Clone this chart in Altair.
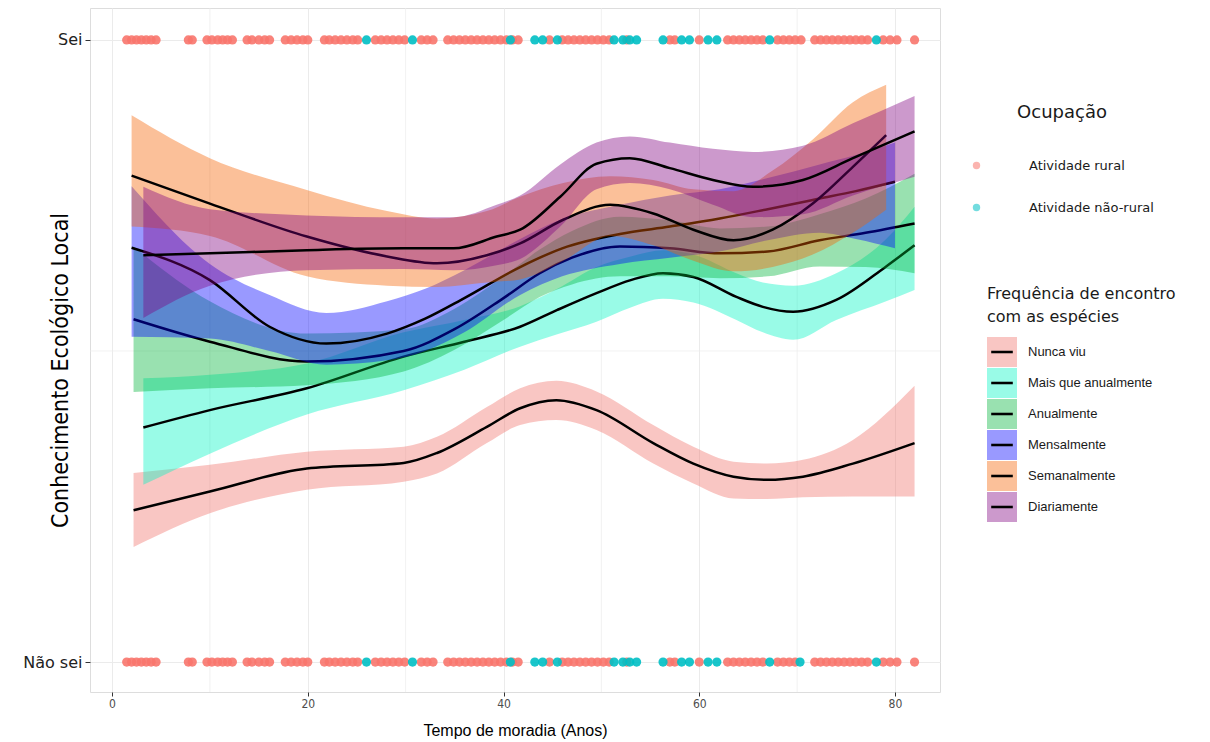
import altair as alt
import pandas as pd

# ---------------- data ----------------
cats = ["Nunca viu", "Mais que anualmente", "Anualmente", "Mensalmente", "Semanalmente", "Diariamente"]
band_colors = ["#F0706A", "#00F5C4", "#00B33A", "#0000FF", "#F56200", "#800080"]

occ_cats = ["Atividade rural", "Atividade não-rural"]
occ_colors = ["#F8766D", "#00BFC4"]

# residence time (years) of respondents, "Sei" row
rural_sei = [1.5, 2.0, 2.5, 3.0, 3.5, 4.0, 4.5, 7.8, 8.2, 9.7, 10.2, 10.8, 11.3, 11.8, 12.3,
             13.8, 14.3, 15.0, 15.6, 16.1, 17.7, 18.3, 18.9, 19.5, 20.0, 21.7, 22.2, 22.8,
             23.4, 24.0, 24.6, 25.1, 26.9, 27.5, 28.1, 28.7, 29.3, 29.9, 31.6, 32.2, 32.8,
             34.3, 34.9, 35.5, 36.1, 36.7, 37.3, 37.9, 38.5, 39.1, 39.7, 40.3, 40.9, 41.5,
             44.7, 46.0, 46.6, 47.2, 47.8, 48.4, 49.0, 49.6, 50.2, 50.8, 52.6, 57.0, 57.5,
             60.0, 62.9, 63.5, 64.1, 64.7, 65.3, 65.9, 66.5, 68.0, 68.6, 69.2, 69.8, 70.4,
             71.8, 72.4, 73.0, 73.6, 74.2, 74.8, 75.4, 76.0, 76.6, 77.2, 78.8, 79.5, 80.2, 82.0]
naorural_sei = [26.0, 30.7, 40.7, 43.2, 44.0, 45.5, 51.3, 52.2, 52.9, 53.6, 56.3, 58.2, 59.0,
                60.9, 61.8, 67.2, 78.1]
# "Não sei" row
rural_naosei = [1.5, 2.0, 2.5, 3.0, 3.5, 4.0, 4.5, 7.8, 8.2, 9.7, 10.2, 10.8, 11.3, 11.8, 12.3,
                13.8, 14.3, 15.0, 15.6, 16.1, 17.7, 18.3, 18.9, 19.5, 20.0, 21.7, 22.2, 22.8,
                23.4, 24.0, 24.6, 25.1, 26.9, 27.5, 28.1, 28.7, 29.3, 29.9, 31.6, 32.2, 32.8,
                34.3, 34.9, 35.5, 36.1, 36.7, 37.3, 37.9, 38.5, 39.1, 39.7, 40.3, 40.9, 41.5,
                44.7, 46.0, 46.6, 47.2, 47.8, 48.4, 49.0, 49.6, 50.2, 50.8, 52.6, 57.0, 57.5,
                60.0, 62.9, 63.5, 64.1, 64.7, 65.3, 65.9, 66.5, 68.0, 68.6, 69.2, 69.8,
                71.8, 72.4, 73.0, 73.6, 74.2, 74.8, 75.4, 76.0, 76.6, 77.2, 78.8, 79.5, 80.2, 82.0]
naorural_naosei = [26.0, 30.7, 40.7, 43.2, 44.0, 45.5, 51.3, 52.2, 52.9, 53.6, 56.3, 58.2, 59.0,
                   60.9, 61.8, 67.2, 70.3, 78.1]

# smooth fits (centre line, lower and upper confidence limits)
nunca_x = [2.2, 10, 19.9, 29.8, 33.2, 38.3, 41.7, 45.4, 49.5, 55.3, 59.4, 63.5, 66.9, 70.6, 75.7, 82.0]
nunca_y = [.244, .274, .311, .320, .336, .378, .408, .421, .405, .352, .319, .298, .293, .298, .319, .352]
nunca_hi = [.304, .317, .338, .346, .362, .410, .440, .452, .435, .381, .346, .322, .319, .325, .357, .444]
nunca_lo = [.185, .239, .277, .290, .303, .352, .381, .389, .373, .319, .287, .263, .262, .265, .266, .266]

mais_x = [3.2, 10, 19.9, 29.8, 36, 41.7, 45.5, 49.5, 53, 56.3, 59.4, 63.8, 66.5, 69.6, 74.0, 79.1, 82.0]
mais_y = [.377, .405, .440, .491, .515, .539, .566, .593, .614, .625, .619, .587, .571, .563, .582, .636, .670]
mais_hi = [.456, .462, .480, .530, .550, .572, .600, .635, .652, .662, .655, .625, .610, .605, .625, .680, .732]
mais_lo = [.285, .335, .398, .437, .470, .507, .527, .547, .570, .584, .578, .550, .530, .518, .550, .580, .598]

anu_x = [2.2, 10, 19.9, 29.8, 35, 40, 43.7, 47, 51.9, 57, 62.1, 67, 72.3, 77, 82]
anu_y = [.551, .515, .483, .500, .535, .585, .625, .650, .668, .665, .657, .660, .678, .690, .705]
anu_hi = [.668, .580, .528, .535, .568, .620, .663, .693, .716, .710, .697, .700, .720, .745, .785]
anu_lo = [.434, .440, .445, .467, .502, .550, .587, .607, .620, .620, .617, .620, .636, .635, .625]

men_x = [2, 10, 16.1, 21.9, 28.1, 32, 36, 41.7, 46, 51.9, 57, 62.1, 67, 72.3, 76, 80]
men_y = [.666, .614, .539, .512, .528, .552, .585, .635, .665, .688, .700, .713, .728, .745, .757, .772]
men_hi = [.765, .640, .590, .561, .580, .600, .630, .680, .712, .735, .750, .760, .778, .800, .815, .835]
men_lo = [.523, .520, .500, .478, .485, .500, .530, .590, .620, .640, .650, .660, .678, .690, .680, .665]

sem_x = [2, 10, 19.9, 28.1, 33.2, 38.3, 41.7, 46.1, 50.9, 55.3, 59.4, 63.5, 67.5, 71.6, 75.7, 79.1]
sem_y = [.782, .737, .684, .652, .641, .654, .673, .711, .735, .721, .695, .678, .695, .737, .796, .847]
sem_hi = [.879, .810, .759, .725, .713, .725, .748, .770, .781, .775, .760, .757, .790, .840, .900, .928]
sem_lo = [.700, .685, .620, .605, .603, .610, .615, .645, .685, .670, .645, .628, .635, .655, .690, .727]

dia_x = [3.2, 10, 19.9, 29.8, 34.9, 39.3, 41.7, 45.8, 49.5, 52.9, 57, 61.4, 65.5, 70.6, 75.7, 82]
dia_y = [.654, .657, .662, .665, .665, .684, .695, .748, .801, .810, .794, .775, .764, .775, .810, .853]
dia_hi = [.764, .728, .718, .715, .715, .735, .750, .800, .835, .845, .835, .825, .820, .830, .866, .910]
dia_lo = [.553, .605, .630, .632, .630, .638, .648, .700, .760, .770, .760, .735, .715, .720, .750, .780]

minor_grid_x = [10, 30, 50, 70]
minor_grid_y = [0.5]
x_ticks = [0, 20, 40, 60, 80]
y_ticks = [0, 1]

# ---------------- tables ----------------
fits = {
    "Nunca viu": (nunca_x, nunca_y, nunca_lo, nunca_hi),
    "Mais que anualmente": (mais_x, mais_y, mais_lo, mais_hi),
    "Anualmente": (anu_x, anu_y, anu_lo, anu_hi),
    "Mensalmente": (men_x, men_y, men_lo, men_hi),
    "Semanalmente": (sem_x, sem_y, sem_lo, sem_hi),
    "Diariamente": (dia_x, dia_y, dia_lo, dia_hi),
}
# keys for the (label-less) line-key legend drawn over the fill legend
line_keys = [c + " " for c in cats]

pts = pd.concat([
    pd.DataFrame({"x": rural_sei, "y": 1, "occ": occ_cats[0]}),
    pd.DataFrame({"x": naorural_sei, "y": 1, "occ": occ_cats[1]}),
    pd.DataFrame({"x": rural_naosei, "y": 0, "occ": occ_cats[0]}),
    pd.DataFrame({"x": naorural_naosei, "y": 0, "occ": occ_cats[1]}),
], ignore_index=True)

xscale = alt.Scale(domain=[-2.25, 84.6], nice=False, zero=False)
yscale = alt.Scale(domain=[-0.0482, 1.0514], nice=False, zero=False)

GRID = "#EBEBEB"
NARROW = "DejaVu Sans Condensed, Liberation Sans, sans-serif"
freq_title = ["Frequência de encontro", "com as espécies"]

x_enc = alt.X("x:Q", scale=xscale, axis=alt.Axis(
    values=x_ticks, title="Tempo de moradia (Anos)", grid=True, gridColor=GRID,
    domain=False, ticks=True, tickColor="#333333", tickSize=4, labelPadding=2,
    labelFont=NARROW, labelFontSize=12, labelColor="#4D4D4D",
    titleFont="Liberation Sans", titleFontSize=16, titleFontWeight="normal",
    titleColor="#000000", titleY=30, titleBaseline="top"))

y_enc = alt.Y("y:Q", scale=yscale, axis=alt.Axis(
    values=y_ticks, labelExpr="datum.value == 1 ? 'Sei' : 'Não sei'",
    title="Conhecimento Ecológico Local", grid=True, gridColor=GRID,
    domain=False, ticks=True, tickColor="#333333", tickSize=5, labelPadding=3,
    labelFont="DejaVu Sans", labelFontSize=16, labelColor="#222222",
    titleFont=NARROW, titleFontSize=23, titleFontWeight="normal",
    titleColor="#000000", titleX=-18, titleY=362, titleAngle=-90,
    titleAlign="center", titleBaseline="bottom"))

fill_enc = alt.Fill("freq:N", scale=alt.Scale(domain=cats, range=band_colors),
                    legend=alt.Legend(
                        title=freq_title, orient="none", legendX=897, legendY=278,
                        symbolType="square", symbolSize=900, symbolOpacity=0.4,
                        symbolStrokeWidth=0, labelOffset=11, labelFont="Liberation Sans",
                        labelFontSize=13, labelColor="#1A1A1A", labelLimit=300,
                        titleFont="DejaVu Sans", titleLimit=400,
                        titleFontSize=16, titleFontWeight="normal", titleColor="#1A1A1A",
                        titleLineHeight=23, titlePadding=12, rowPadding=1, padding=0))

# line keys only (no title, no labels), laid exactly over the square keys;
# the key is a thin filled bar inside a 30x30 box so the rows match the squares
stroke_enc = alt.Stroke("freq_l:N", scale=alt.Scale(domain=line_keys, range=["#000000"] * 6),
                        legend=alt.Legend(
                            title=None, orient="none", legendX=897, legendY=329,
                            symbolType="M-1,-1L-1,-1M1,1L1,1M-0.72,-0.085H0.72V0.085H-0.72Z",
                            symbolSize=900, symbolStrokeWidth=0, symbolFillColor="#000000",
                            symbolOpacity=1, labelExpr="''", labelFontSize=13,
                            rowPadding=1, padding=0))

color_enc = alt.Color("occ:N", scale=alt.Scale(domain=occ_cats, range=occ_colors),
                      legend=alt.Legend(
                          title="Ocupação", orient="none", legendX=880, legendY=96,
                          symbolType="circle", symbolSize=55, symbolOpacity=0.55,
                          labelOffset=46, labelFont="DejaVu Sans", labelFontSize=13,
                          labelColor="#1A1A1A", titleFont="DejaVu Sans", titleFontSize=18,
                          titleFontWeight="normal", titleColor="#1A1A1A", titleAnchor="middle",
                          titlePadding=37, rowPadding=28, padding=0))

layers = []
layers.append(alt.Chart(pd.DataFrame({"gx": minor_grid_x})).mark_rule(
    color=GRID, strokeWidth=0.7).encode(x=alt.X("gx:Q", scale=xscale)))
layers.append(alt.Chart(pd.DataFrame({"gy": minor_grid_y})).mark_rule(
    color=GRID, strokeWidth=0.7).encode(y=alt.Y("gy:Q", scale=yscale)))

layers.append(alt.Chart(pts).mark_circle(size=85, opacity=0.9).encode(
    x=x_enc, y=y_enc, color=color_enc))

for c, lk in zip(cats, line_keys):
    fx, fy, flo, fhi = fits[c]
    df = pd.DataFrame({"x": fx, "y": fy, "lo": flo, "hi": fhi, "freq": c, "freq_l": lk})
    base = alt.Chart(df)
    layers.append(base.mark_area(opacity=0.4, interpolate="monotone").encode(
        x=alt.X("x:Q", scale=xscale),
        y=alt.Y("lo:Q", scale=yscale),
        y2="hi:Q",
        fill=fill_enc))
    layers.append(base.mark_line(strokeWidth=2.5, interpolate="monotone").encode(
        x=alt.X("x:Q", scale=xscale),
        y=alt.Y("y:Q", scale=yscale),
        stroke=stroke_enc))

chart = alt.layer(*layers).properties(
    width=850, height=684,
    padding={"left": 82, "top": 0, "right": 262, "bottom": 48},
    autosize=alt.AutoSizeParams(type="none"),
).configure_view(stroke="#666666", strokeWidth=1).configure(background="white")

chart.save("out.html", embed_options={"renderer": "svg", "actions": False})
